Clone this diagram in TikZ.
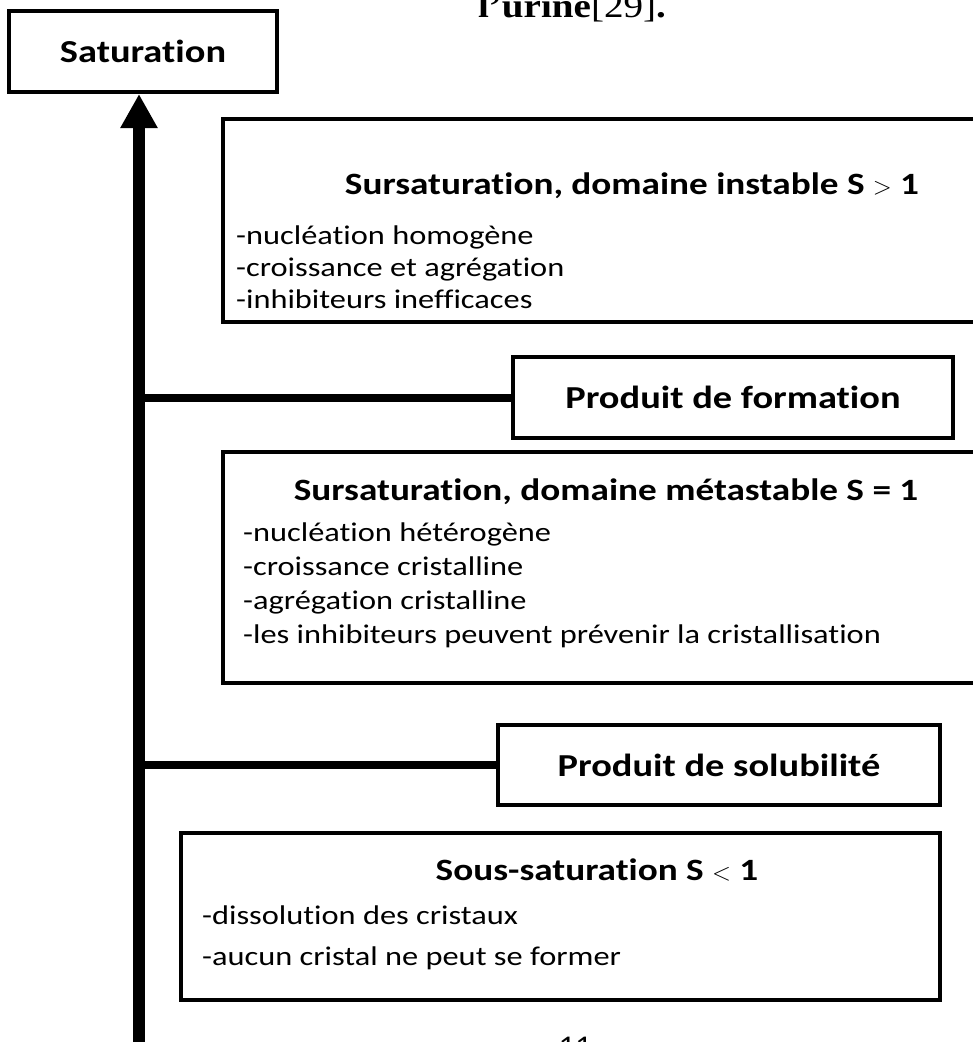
\documentclass[tikz,border=0pt]{standalone}
\usepackage{fontspec}
\setmainfont{Carlito}[FakeStretch=1.2, Ligatures=NoCommon]
\newfontfamily\timesfont{Liberation Serif}[FakeStretch=1.15]
\usetikzlibrary{arrows.meta, positioning}

\begin{document}
\begin{tikzpicture}[x=1pt, y=-1pt,
  every node/.style={font=\fontsize{27}{32}\selectfont},
  box/.style={draw, line width=4pt, inner sep=0pt},
  keybox/.style={box, font=\fontsize{32}{36}\selectfont\bfseries},
  heading/.style={font=\fontsize{31}{36}\selectfont\bfseries, inner sep=0pt},
  items/.style={align=left, anchor=west, inner sep=0pt,
                font=\fontsize{27}{#1}\selectfont},
  link/.style={line width=8pt},
  rise/.style={line width=12pt, -{Triangle[length=34pt, width=35pt]}}
]
  \useasboundingbox (0,0) rectangle (973,1042);

  % page residue
  \node[anchor=base, font=\fontsize{34}{40}\selectfont\timesfont] (ref) at (572,17)
       {\bfseries l’urine\mdseries[29]\bfseries.};
  \node[anchor=north] (page) at (575,1034) {11};

  % left axis
  \node[keybox, minimum width=268pt, minimum height=81pt] (sat) at (143,51.5) {Saturation};
  \coordinate (base) at (139,1050);
  \draw[rise] (base) -- (base |- sat.south);

  % unstable domain
  \node[box, minimum width=762pt, minimum height=203pt] (instab) at (604,220.5) {};
  \node[heading] (instabt) at (632,186) {Sursaturation, domaine instable S $>$ 1};
  \node[items=32pt] (instabl) at (236,267)
       {-nucléation homogène\\-croissance et agrégation\\-inhibiteurs inefficaces};

  % formation product
  \node[keybox, minimum width=440pt, minimum height=81pt] (form) at (733,397.5) {Produit de formation};
  \draw[link] (base |- form.west) -- (form.west);

  % metastable domain
  \node[box, minimum width=762pt, minimum height=231pt] (meta) at (604,567.5) {};
  \node[heading] (metat) at (606,492) {Sursaturation, domaine métastable S = 1};
  \node[items=34pt] (metal) at (243,585)
       {-nucléation hétérogène\\-croissance cristalline\\-agrégation cristalline\\-les inhibiteurs peuvent prévenir la cristallisation};

  % solubility product
  \node[keybox, minimum width=442pt, minimum height=80pt] (sol) at (719,765) {Produit de solubilité};
  \draw[link] (base |- sol.west) -- (sol.west);

  % undersaturation
  \node[box, minimum width=759pt, minimum height=167pt] (sous) at (560.5,916.5) {};
  \node[heading] (soust) at (597,870) {Sous-saturation S $<$ 1};
  \node[items=41pt] (sousl) at (202,937.5)
       {-dissolution des cristaux\\-aucun cristal ne peut se former};
\end{tikzpicture}
\end{document}
